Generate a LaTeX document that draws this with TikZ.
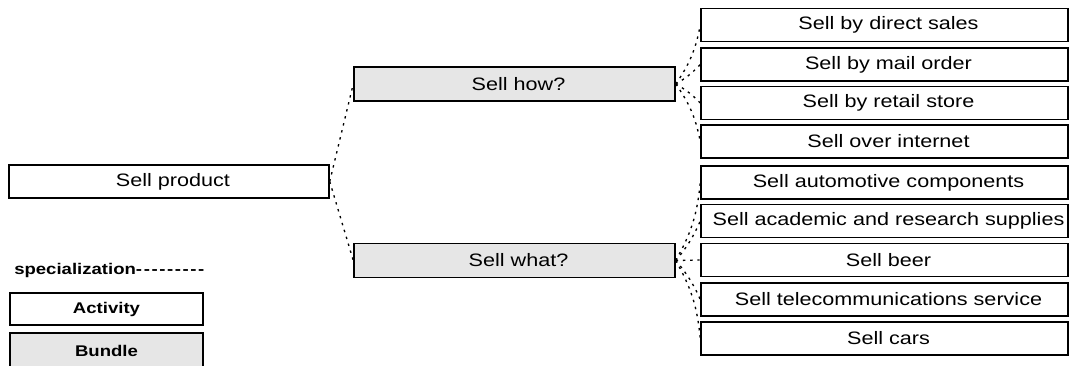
\documentclass[tikz,border=0pt]{standalone}
\usepackage{fontspec}
\setmainfont{Liberation Sans}[FakeStretch=1.2]
\definecolor{bundlegray}{HTML}{E6E6E6}
\newcommand\legdash{-\kern1.2pt}
\begin{document}
\begin{tikzpicture}[x=0.75pt,y=-0.75pt,
  basebox/.style={draw=black, line width=1.1pt, rectangle, inner sep=0pt,
    font=\fontsize{13.5}{16}\selectfont,
    execute at begin node={\hspace*{6pt}}},
  activity/.style={basebox, fill=white},
  bundle/.style={basebox, fill=bundlegray},
  topbox/.style={minimum width=240.75pt, minimum height=25.5pt},
  leafbox/.style={activity, minimum width=275.25pt, minimum height=24.75pt},
  legendbox/.style={draw=black, line width=1.1pt, rectangle, inner sep=0pt,
    minimum width=144.75pt,
    font=\fontsize{11.6}{13}\selectfont\bfseries},
  spec/.style={line width=1pt, dash pattern=on 1.8pt off 3.6pt},
]
\useasboundingbox (0,0) rectangle (1072,365);

% root activity and its two bundles
\node[activity, minimum width=240pt, minimum height=24.75pt] (root) at (169,181.5) {Sell product};
\node[bundle, topbox] (how)  at (514.5,84)    {Sell how?};
\node[bundle, topbox] (what) at (514.5,260.5) {Sell what?};

% specializations of "Sell how?"
\node[leafbox] (direct)   at (884.5,25)    {Sell by direct sales};
\node[leafbox] (mail)     at (884.5,64.5)  {Sell by mail order};
\node[leafbox] (retail)   at (884.5,103)   {Sell by retail store};
\node[leafbox] (internet) at (884.5,141.5) {Sell over internet};

% specializations of "Sell what?"
\node[leafbox] (auto)     at (884.5,182.5) {Sell automotive components};
\node[leafbox] (academic) at (884.5,221)   {Sell academic and research supplies};
\node[leafbox] (beer)     at (884.5,260)   {Sell beer};
\node[leafbox] (telecom)  at (884.5,299.5) {Sell telecommunications service};
\node[leafbox] (cars)     at (884.5,338.5) {Sell cars};

% specialization links
\draw[spec] (root.east) -- (how.west);
\draw[spec] (root.east) -- (what.west);

\draw[spec] (how.east) to[bend right=12] (direct.west);
\draw[spec] (how.east) to[bend right=8]  (mail.west);
\draw[spec] (how.east) to[bend left=8]   (retail.west);
\draw[spec] (how.east) to[bend left=12]  (internet.west);

\draw[spec] (what.east) to[bend right=12] (auto.west);
\draw[spec] (what.east) to[bend right=8]  (academic.west);
\draw[spec] (what.east) --                (beer.west);
\draw[spec] (what.east) to[bend left=8]   (telecom.west);
\draw[spec] (what.east) to[bend left=12]  (cars.west);

% legend
\node[anchor=base west, inner sep=0pt, font=\fontsize{11.6}{13}\selectfont\bfseries]
  (legspec) at (14,274)
  {specialization\legdash\legdash\legdash\legdash\legdash\legdash\legdash\legdash-};
\node[legendbox, fill=white, minimum height=24pt]        (legact) at (106.5,309)   {Activity};
\node[legendbox, fill=bundlegray, minimum height=26.25pt] (legbun) at (106.5,350.5) {Bundle};
\end{tikzpicture}
\end{document}
